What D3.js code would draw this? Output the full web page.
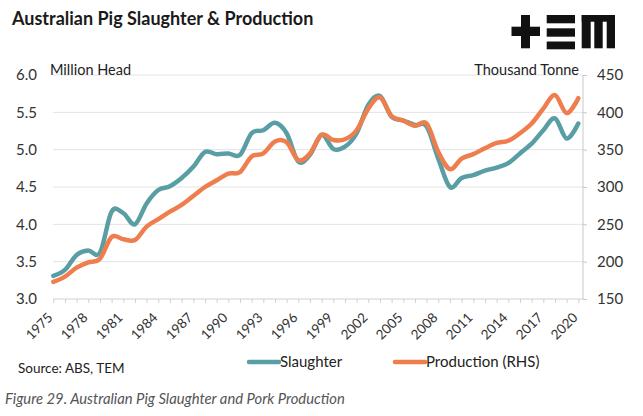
<!DOCTYPE html>
<html><head><meta charset="utf-8">
<script src="https://cdn.jsdelivr.net/npm/d3@7"></script>
<style>
html,body{margin:0;padding:0;background:#fff;}
svg{display:block;font-family:Lato,"Open Sans",sans-serif;}
</style></head>
<body>
<svg id="c" width="643" height="416"></svg>
<script>
const years = d3.range(1975, 2021);
const slaughter = [3.31,3.39,3.59,3.65,3.62,4.17,4.15,4.00,4.28,4.46,4.51,4.62,4.77,4.97,4.94,4.95,4.93,5.22,5.26,5.36,5.22,4.84,4.93,5.20,5.01,5.04,5.22,5.60,5.72,5.44,5.39,5.33,5.31,4.88,4.50,4.62,4.66,4.72,4.76,4.82,4.95,5.08,5.26,5.42,5.15,5.35];
const production = [173,180,192,199,204,233,230,229,247,257,267,276,288,300,309,318,320,341,345,361,360,336,345,370,363,364,376,405,420,395,389,382,385,347,324,338,344,352,359,362,372,385,405,423,399,419];
const leftTicks = [3.0,3.5,4.0,4.5,5.0,5.5,6.0];
const rightTicks = [150,200,250,300,350,400,450];
const labelYears = d3.range(1975, 2021, 3);
const seriesNames = ["Slaughter","Production (RHS)"];
const colors = ["#5a9ea5","#ee7e4d"];

const svg = d3.select("#c");
const L = 53, R = 583, T = 75, B = 299;
const x = d3.scaleLinear().domain([1975, 2020]).range([53.3, 578.3]);
const yL = d3.scaleLinear().domain([3, 6]).range([B, T]);
const yR = d3.scaleLinear().domain([150, 450]).range([B, T]);

// title
svg.append("text").attr("x", 12).attr("y", 25).attr("font-size", 18).attr("font-weight", 700)
  .attr("fill", "#1a1a1a").text("Australian Pig Slaughter & Production");

// logo
const logo = svg.append("g").attr("fill", "#111");
[[511.5,26.7,28.5,9.3],[521,15,9,33.3],
 [546.7,15,28.3,8.3],[546.7,28.3,28.3,8.4],[546.7,41.5,28.3,7.8],
 [581.7,15,33.3,6.7],[581.7,15,9,33.3],[594.3,15,8.4,33.3],[606.7,15,8.3,33.3]]
 .forEach(r => logo.append("rect").attr("x", r[0]).attr("y", r[1]).attr("width", r[2]).attr("height", r[3]));

// gridlines
svg.append("g").selectAll("line").data(leftTicks.filter(d => d > 3)).join("line")
  .attr("x1", L).attr("x2", R).attr("y1", d => yL(d)).attr("y2", d => yL(d))
  .attr("stroke", "#e3e3e3").attr("stroke-width", 1);

// left axis labels
const axL = svg.append("g").attr("transform", `translate(${L},0)`)
  .call(d3.axisLeft(yL).tickValues(leftTicks).tickFormat(d3.format(".1f")).tickSize(0).tickPadding(16));
axL.select(".domain").remove();
axL.selectAll("text").attr("font-size", 15).attr("fill", "#333").attr("font-family", "Lato,sans-serif");

// right axis
const axR = svg.append("g").attr("transform", `translate(${R},0)`)
  .call(d3.axisRight(yR).tickValues(rightTicks).tickSize(4).tickPadding(10));
axR.select(".domain").attr("stroke", "#c8c8c8").attr("d", `M0,${T}V${B}`);
axR.selectAll(".tick line").attr("stroke", "#c8c8c8");
axR.selectAll("text").attr("font-size", 15).attr("fill", "#333").attr("font-family", "Lato,sans-serif");

// bottom axis
const axB = svg.append("g").attr("transform", `translate(0,${B})`)
  .call(d3.axisBottom(x).tickValues(years).tickSize(4).tickFormat(""));
axB.select(".domain").attr("stroke", "#d0d0d0").attr("d", `M${L},0H${R}`);
axB.selectAll(".tick line").attr("stroke", "#d0d0d0");
svg.append("g").selectAll("text").data(labelYears).join("text")
  .attr("transform", d => `translate(${x(d) - 3},${B + 16}) rotate(-45)`)
  .attr("text-anchor", "end").attr("dy", "0.35em")
  .attr("font-size", 13.5).attr("fill", "#333").text(d => d);

// axis titles
svg.append("text").attr("x", 50).attr("y", 75).attr("font-size", 14.5).attr("fill", "#222").text("Million Head");
svg.append("text").attr("x", 579).attr("y", 75).attr("text-anchor", "end").attr("font-size", 14.5).attr("fill", "#222").text("Thousand Tonne");

// lines
const curve = d3.curveCardinal.tension(0);
const lineL = d3.line().x((d, i) => x(years[i])).y(d => yL(d)).curve(curve);
const lineR = d3.line().x((d, i) => x(years[i])).y(d => yR(d)).curve(curve);
svg.append("path").attr("d", lineL(slaughter)).attr("fill", "none").attr("stroke", colors[0])
  .attr("stroke-width", 4.5).attr("stroke-linecap", "round").attr("stroke-linejoin", "round");
svg.append("path").attr("d", lineR(production)).attr("fill", "none").attr("stroke", colors[1])
  .attr("stroke-width", 4.5).attr("stroke-linecap", "round").attr("stroke-linejoin", "round");

// legend
const legX = [249, 395];
seriesNames.forEach((n, i) => {
  svg.append("line").attr("x1", legX[i]).attr("x2", legX[i] + 30).attr("y1", 362).attr("y2", 362)
    .attr("stroke", colors[i]).attr("stroke-width", 4.5).attr("stroke-linecap", "round");
  svg.append("text").attr("x", legX[i] + 31).attr("y", 367).attr("font-size", 15).attr("fill", "#222").text(n);
});

// source & caption
svg.append("text").attr("x", 18).attr("y", 372.5).attr("font-size", 13.5).attr("fill", "#222").text("Source: ABS, TEM");
svg.append("text").attr("x", 5).attr("y", 404).attr("font-size", 14.8).attr("font-style", "italic")
  .attr("fill", "#555").text("Figure 29. Australian Pig Slaughter and Pork Production");
</script>
</body></html>
